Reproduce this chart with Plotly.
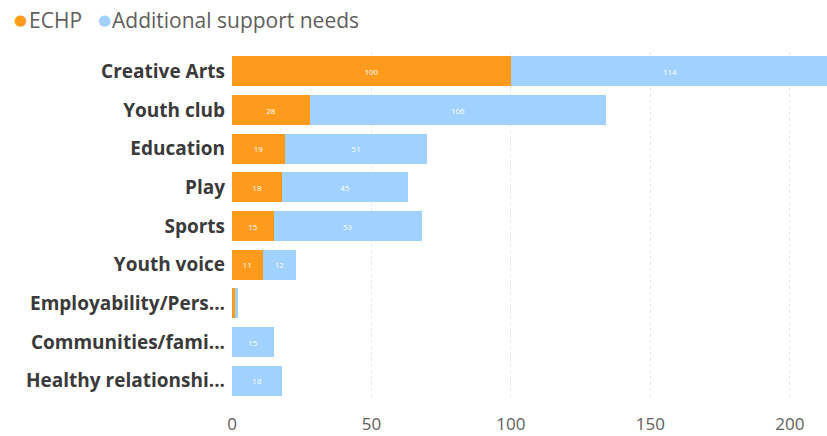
import plotly.graph_objects as go

categories = ["Creative Arts", "Youth club", "Education", "Play", "Sports",
              "Youth voice", "Employability/Pers...", "Communities/fami...",
              "Healthy relationshi..."]
echp = [100, 28, 19, 18, 15, 11, 1, 0, 0]
asn = [114, 106, 51, 45, 53, 12, 1, 15, 18]
tick_vals = [0, 50, 100, 150, 200]

ORANGE = "#FF9B1C"
BLUE = "#A1D1FE"
FONT = "Segoe UI, Open Sans, sans-serif"


def labels(vals):
    return [str(v) if v >= 5 else "" for v in vals]


fig = go.Figure()
fig.add_trace(go.Bar(y=categories, x=echp, orientation="h", name="ECHP",
                     marker=dict(color=ORANGE, line=dict(width=0)),
                     text=labels(echp), textposition="inside",
                     insidetextanchor="middle",
                     textfont=dict(color="white", size=8, family=FONT),
                     showlegend=False))
fig.add_trace(go.Bar(y=categories, x=asn, orientation="h",
                     name="Additional support needs",
                     marker=dict(color=BLUE, line=dict(width=0)),
                     text=labels(asn), textposition="inside",
                     insidetextanchor="middle",
                     textfont=dict(color="white", size=8, family=FONT),
                     showlegend=False))

L, R, T, B = 232, 0, 52, 36
W, H = 827, 436
pw = W - L - R
ph = H - T - B


def px(x):
    return (x - L) / pw


def py(y):
    return (H - B - y) / ph


legend_items = [(20, 27, ORANGE, "ECHP"), (104, 110, BLUE, "Additional support needs")]
annotations = []
for dx, tx, col, name in legend_items:
    annotations.append(dict(x=px(dx), y=py(20), xref="paper", yref="paper",
                            text="●", showarrow=False, xanchor="center",
                            yanchor="middle", font=dict(color=col, size=15, family="DejaVu Sans")))
    annotations.append(dict(x=px(tx), y=py(20), xref="paper", yref="paper",
                            text=name, showarrow=False, xanchor="left",
                            yanchor="middle", font=dict(color="#605E5C", size=21, family=FONT)))

fig.update_layout(
    width=W, height=H,
    barmode="stack", bargap=0.22,
    margin=dict(l=L, r=R, t=T, b=B, autoexpand=False),
    plot_bgcolor="white", paper_bgcolor="white",
    font=dict(family=FONT),
    xaxis=dict(range=[0, 213.3], tickvals=tick_vals, showgrid=True,
               gridcolor="#E6E6E6", griddash="dot", gridwidth=1,
               zeroline=False, showline=False,
               tickfont=dict(size=17, color="#605E5C", family=FONT),
               ticks="", ticklabelstandoff=12),
    yaxis=dict(autorange="reversed", showgrid=False, zeroline=False,
               tickfont=dict(size=19, color="#3A3A3A", family=FONT, weight="bold"),
               ticks="", ticklabelstandoff=6),
    annotations=annotations,
    uniformtext=dict(mode="hide", minsize=7),
)

fig.write_html("out.html", config={"displayModeBar": False},
               post_script="document.body.style.margin='0';document.body.style.overflow='hidden';")
